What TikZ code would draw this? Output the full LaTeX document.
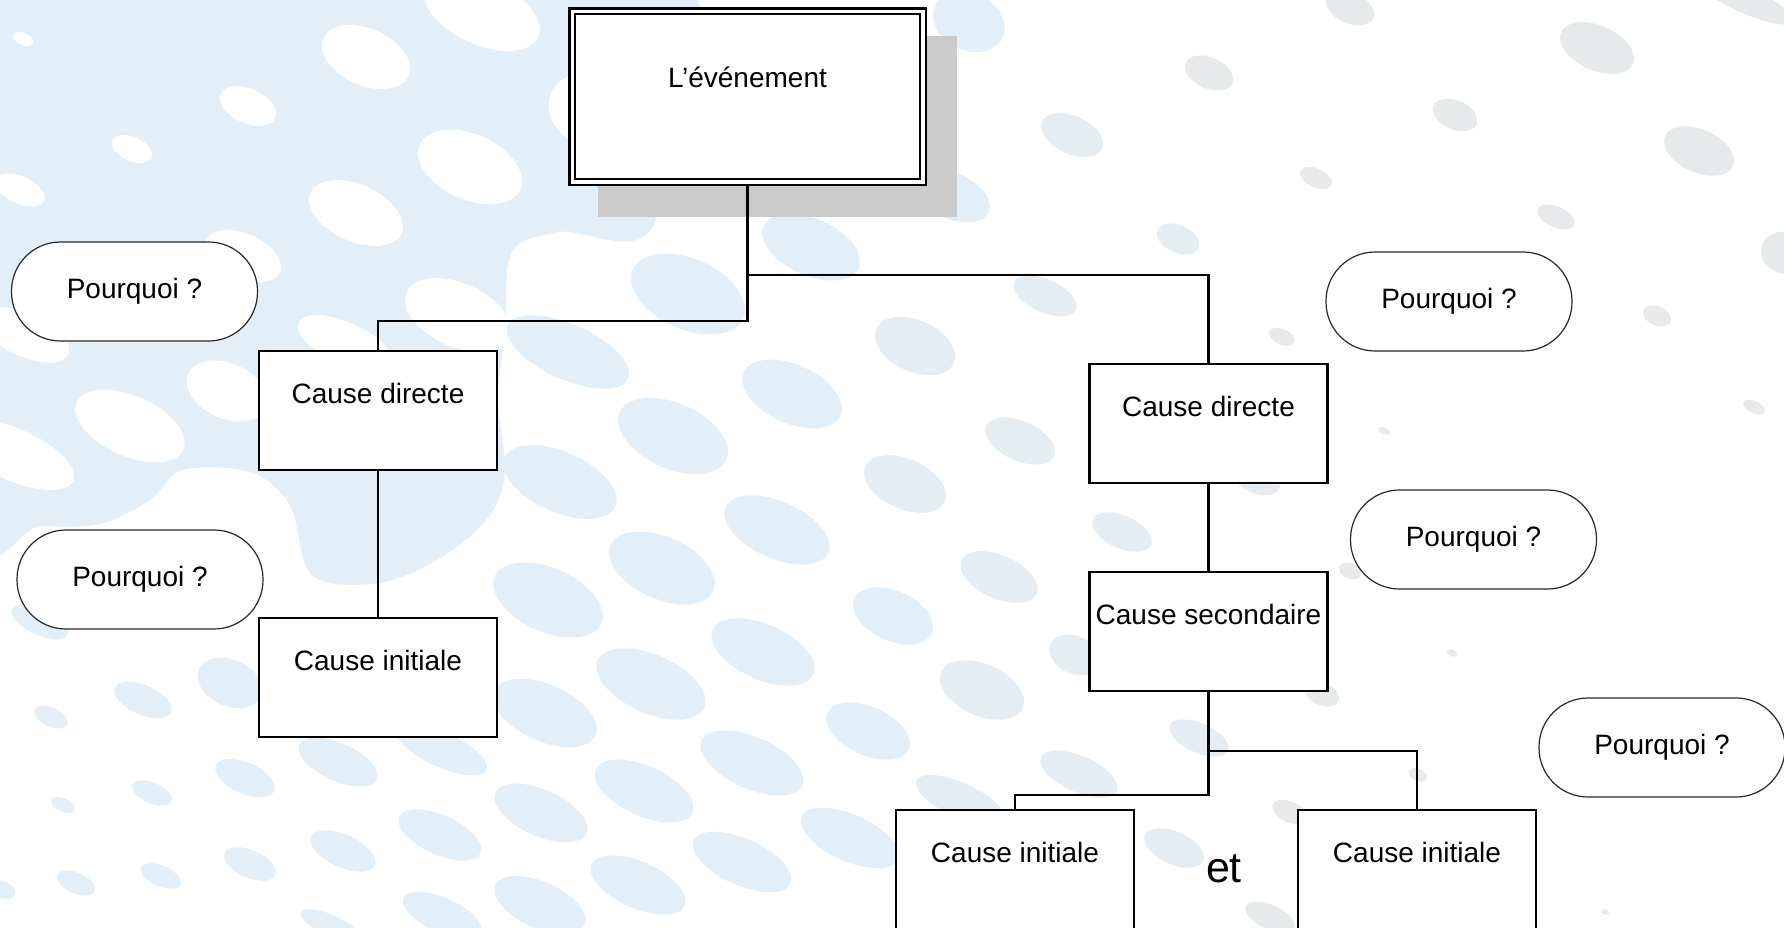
\documentclass[tikz,border=0pt]{standalone}
\usepackage{fontspec}
\setmainfont{Liberation Sans}
\newcommand\labelfont{\fontsize{28pt}{34pt}\selectfont}
\newcommand\andfont{\fontsize{43pt}{50pt}\selectfont}
\definecolor{bgblue}{RGB}{227,239,248}
\definecolor{bgmid}{RGB}{229,237,243}
\definecolor{bggray}{RGB}{231,234,235}
\definecolor{shadowgray}{RGB}{203,203,203}
\definecolor{outline}{RGB}{40,40,40}
\pgfdeclarelayer{bg}
\pgfdeclarelayer{links}
\pgfsetlayers{bg,links,main}
% one tilted halftone spot: colour, then list of x/y/half-width/half-height
\newcommand\spots[2]{%
  \foreach \x/\y/\a/\b in {#2} {%
    \fill[#1, rotate around={-24:(\x,\y)}] (\x,\y)
      ellipse [x radius={1.06*\a*1pt}, y radius={0.86*\b*1pt}];%
  }%
}
\tikzset{
  cbox/.style={draw, line width=2.6pt, fill=white, rectangle, minimum width=238pt,
    inner sep=0pt, outer sep=0pt, text height=52pt, text depth=67pt,
    anchor=north, font=\labelfont},
  evbox/.style={draw, line width=2.5pt, double=white, double distance=3.3pt,
    fill=white, minimum width=350.7pt, inner sep=0pt, outer sep=0pt,
    text height=76.8pt, text depth=93.9pt, anchor=north, font=\labelfont},
  why/.style={draw=outline, line width=1.2pt, fill=white, rounded corners=49pt,
    minimum width=246pt, minimum height=99pt, inner sep=0pt, outer sep=0pt,
    font=\labelfont},
  link/.style={line width=2.4pt},
}
\begin{document}
\begin{tikzpicture}[x=1pt,y=-1pt]
\path[use as bounding box] (0,0) rectangle (1784,928);

% ---------- dotted backdrop ----------
\begin{pgfonlayer}{bg}
\begin{scope}
\clip (0,0) rectangle (1784,928);
\fill[white] (0,0) rectangle (1784,928);
% dense area in the upper left
\fill[bgblue] plot[smooth cycle, tension=0.55] coordinates {
  (-30,-30) (660,-30) (655,222) (560,232) (512,252) (505,330) (498,400)
  (505,470) (490,515) (445,555) (380,583) (312,575) (290,505) (250,472)
  (182,470) (150,500) (100,524) (40,526) (-30,520)};
% openings in the dense area
\spots{white}{23/39/10/7, 366/57/44/33, 482/12/58/38, 248/106/28/20,
  132/149/20/14, 20/190/25/16, 470/167/52/38, 356/213/47/33, 243/256/38/26,
  458/315/53/37, 345/343/48/24, 25/335/45/25, 227/391/40/32, 130/426/55/35,
  15/455/60/30, 585/282/68/38, 590/110/40/42}
% scattered spots
\spots{bgblue}{688/294/57/41, 811/247/49/33, 673/436/55/38, 792/394/50/34,
  568/352/62/32, 560/482/57/35, 548/600/55/37, 662/568/53/36, 777/530/53/33,
  40/622/29/15, 230/683/32/27, 143/700/29/17, 51/717/17/11, 338/762/40/22,
  442/750/46/20, 545/713/52/33, 651/684/55/34, 763/652/52/32, 245/778/30/18,
  152/793/20/12, 63/805/12/8, 343/851/33/19, 440/835/42/23, 541/813/47/27,
  644/791/50/29, 752/763/52/30, 250/864/26/16, 161/876/20/12, 76/883/19/12,
  3/890/12/10, 442/915/40/20, 540/905/46/27, 638/885/48/27, 742/862/50/27,
  850/838/50/27, 330/925/30/12, 893/616/40/29, 868/731/42/28, 969/22/35/33,
  950/195/40/27}
\spots{bgmid}{915/346/40/30, 905/484/41/29, 1020/441/35/23, 999/577/39/25,
  982/690/42/30, 1079/774/39/21, 960/800/45/20, 1122/532/30/19,
  1075/655/25/22, 1072/135/31/22, 1045/296/32/19, 1178/239/21/16,
  1199/738/30/17, 1174/848/30/19, 1255/478/25/17}
\spots{bggray}{1209/73/24/18, 1350/8/24/18, 1597/48/37/26, 1745/0/50/15,
  1455/115/22/17, 1699/151/35/25, 1316/178/16/11, 1556/217/19/12,
  1784/253/22/24, 1657/316/14/11, 1282/337/13/9, 1384/431/6/4,
  1754/407/11/7, 1350/571/11/9, 1452/653/5/4, 1322/694/17/13,
  1418/775/9/7, 1290/812/18/12, 1270/917/25/14, 1605/912/4/3}
\end{scope}
% drop shadow of the top box
\fill[shadowgray] (598.3,35.7) rectangle (956.7,216.7);
\end{pgfonlayer}

% ---------- boxes ----------
\node[evbox] (ev) at (747.5,11.2) {L’événement};

\node[cbox] (cd1) at (378,351) {Cause directe};
\node[cbox] (ci1) at (378,618) {Cause initiale};
\node[cbox] (cd2) at (1208.5,364) {Cause directe};
\node[cbox] (cs)  at (1208.5,572) {Cause secondaire};
\node[cbox] (ci2) at (1015,810) {Cause initiale};
\node[cbox] (ci3) at (1417,810) {Cause initiale};

\node[why] (w1) at (134.5,291.5) {Pourquoi ?};
\node[why] (w2) at (140,579.5) {Pourquoi ?};
\node[why] (w3) at (1449,301.5) {Pourquoi ?};
\node[why] (w4) at (1473.5,539.5) {Pourquoi ?};
\node[why] (w5) at (1662,747.5) {Pourquoi ?};

\node[font=\andfont, anchor=base, inner sep=0pt] (et) at (1224,882) {et};

% ---------- connectors ----------
\coordinate (j1) at (747.5,275);
\coordinate (j2) at (747.5,321);
\coordinate (k1) at (1208.5,751);
\coordinate (k2) at (1208.5,795);
\begin{pgfonlayer}{links}
\draw[link] (ev.south) -- (j2) -| (cd1.north);
\draw[link] (j1) -| (cd2.north);
\draw[link] (cd1.south) -- (ci1.north);
\draw[link] (cd2.south) -- (cs.north);
\draw[link] (cs.south) -- (k2) -| (ci2.north);
\draw[link] (k1) -| (ci3.north);
\end{pgfonlayer}
\end{tikzpicture}
\end{document}
